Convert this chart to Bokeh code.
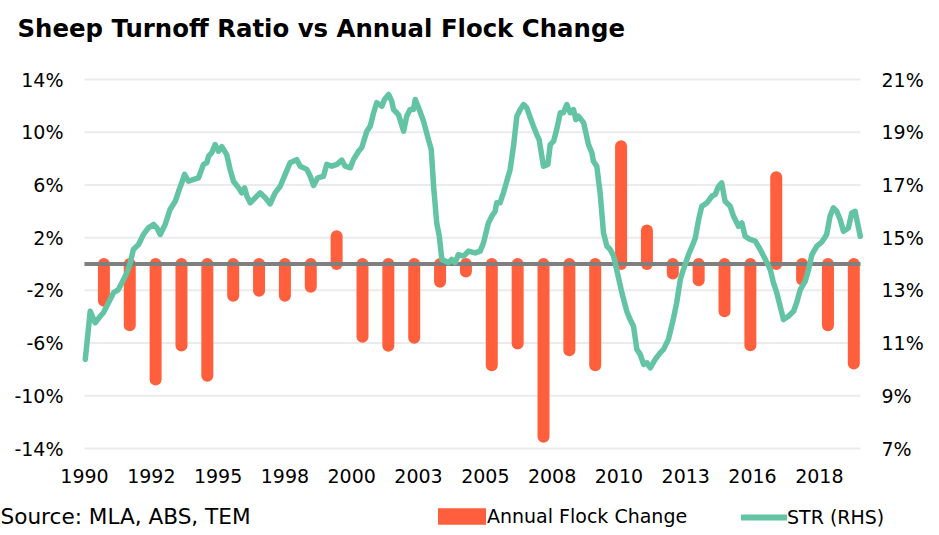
import numpy as np
from bokeh.plotting import figure
from bokeh.models import (Range1d, LinearAxis, FixedTicker, CustomJSTickFormatter,
                          Label, Legend, LegendItem, ColumnDataSource)
from bokeh.embed import file_html
from bokeh.resources import INLINE

TITLE = "Sheep Turnoff Ratio vs Annual Flock Change"
SOURCE_NOTE = "Source: MLA, ABS, TEM"
BAR_LABEL = "Annual Flock Change"
LINE_LABEL = "STR (RHS)"

START_YEAR = 1990.25          # first monthly observation (Apr 1990)
X_END_MONTH = 360.1           # right edge of plot area, months after start
X_TICK_STEP_MONTHS = 31
X_TICK_LABELS = ["1990", "1992", "1995", "1998", "2000", "2003",
                 "2005", "2008", "2010", "2013", "2016", "2018"]
LEFT_TICKS = [-14, -10, -6, -2, 2, 6, 10, 14]
RIGHT_TICKS = [7, 9, 11, 13, 15, 17, 19, 21]

BAR_YEARS = list(range(1991, 2021))
FLOCK_CHANGE = [-2.79, -4.64, -8.76, -6.18, -8.48, -2.41, -2.03, -2.41, -1.72, 2.11,
                -5.52, -6.20, -5.60, -1.35, -0.57, -7.68, -6.03, -13.11, -6.54, -7.68,
                8.94, 2.54, -0.72, -1.23, -3.58, -6.16, 6.59, -1.17, -4.64, -7.55]

STR_DATES = [
    1990.28, 1990.47, 1990.66, 1990.86, 1990.98, 1991.18, 1991.37, 1991.56, 1991.76, 1991.89,
    1992.02, 1992.14, 1992.34, 1992.53, 1992.72, 1992.92, 1993.05, 1993.18, 1993.37, 1993.56,
    1993.76, 1993.89, 1994.01, 1994.12, 1994.27, 1994.47, 1994.66, 1994.85, 1994.98, 1995.05,
    1995.17, 1995.30, 1995.43, 1995.56, 1995.75, 1995.88, 1996.01, 1996.21, 1996.33, 1996.44,
    1996.53, 1996.66, 1996.85, 1997.04, 1997.24, 1997.43, 1997.62, 1997.82, 1998.01, 1998.20,
    1998.46, 1998.59, 1998.85, 1998.98, 1999.11, 1999.27, 1999.49, 1999.62, 1999.81, 2000.01,
    2000.20, 2000.33, 2000.53, 2000.65, 2000.85, 2000.97, 2001.17, 2001.30, 2001.43, 2001.55,
    2001.75, 2001.85, 2002.01, 2002.13, 2002.20, 2002.39, 2002.59, 2002.71, 2002.84, 2002.97,
    2003.04, 2003.17, 2003.36, 2003.55, 2003.66, 2003.75, 2003.87, 2003.97, 2004.07, 2004.20,
    2004.33, 2004.45, 2004.58, 2004.71, 2004.91, 2005.10, 2005.36, 2005.55, 2005.68, 2005.87,
    2006.00, 2006.13, 2006.19, 2006.32, 2006.45, 2006.58, 2006.71, 2006.84, 2006.97, 2007.10,
    2007.23, 2007.35, 2007.49, 2007.61, 2007.74, 2007.83, 2008.00, 2008.17, 2008.26, 2008.39,
    2008.51, 2008.65, 2008.77, 2008.90, 2009.03, 2009.16, 2009.25, 2009.35, 2009.55, 2009.74,
    2009.87, 2009.93, 2010.06, 2010.19, 2010.32, 2010.45, 2010.58, 2010.71, 2010.83, 2011.03,
    2011.22, 2011.35, 2011.48, 2011.61, 2011.74, 2011.87, 2012.00, 2012.13, 2012.32, 2012.51,
    2012.64, 2012.83, 2013.03, 2013.15, 2013.29, 2013.41, 2013.61, 2013.80, 2013.87, 2014.00,
    2014.12, 2014.32, 2014.51, 2014.64, 2014.77, 2014.89, 2015.02, 2015.22, 2015.35, 2015.54,
    2015.67, 2015.80, 2015.99, 2016.19, 2016.38, 2016.58, 2016.77, 2016.89, 2017.02, 2017.15,
    2017.28, 2017.47, 2017.67, 2017.79, 2017.93, 2018.12, 2018.25, 2018.38, 2018.57, 2018.76,
    2018.95, 2019.08, 2019.21, 2019.34, 2019.47, 2019.60, 2019.79, 2019.92, 2020.05, 2020.25,
]
STR_VALUES = [
    10.38, 12.21, 11.77, 12.02, 12.15, 12.53, 12.91, 13.03, 13.41, 13.67,
    14.05, 14.55, 14.74, 15.12, 15.37, 15.50, 15.37, 15.12, 15.50, 16.07,
    16.38, 16.76, 17.08, 17.40, 17.14, 17.21, 17.27, 17.78, 17.84, 18.09,
    18.22, 18.53, 18.28, 18.45, 18.15, 17.59, 17.14, 16.89, 16.70, 16.89,
    16.57, 16.32, 16.51, 16.70, 16.51, 16.28, 16.70, 16.95, 17.40, 17.84,
    17.96, 17.71, 17.59, 17.33, 16.98, 17.27, 17.33, 17.78, 17.71, 17.78,
    17.94, 17.71, 17.65, 17.96, 18.28, 18.41, 19.04, 19.23, 19.74, 20.12,
    19.99, 20.24, 20.43, 20.18, 19.86, 19.67, 19.04, 19.61, 19.86, 19.86,
    20.24, 19.93, 19.42, 18.72, 18.34, 16.95, 15.56, 15.05, 14.17, 14.11,
    14.05, 14.17, 14.05, 14.36, 14.30, 14.49, 14.42, 14.49, 14.80, 15.56,
    15.81, 16.00, 16.32, 16.32, 16.70, 17.14, 17.59, 18.47, 19.61, 19.86,
    20.05, 19.93, 19.55, 19.23, 18.91, 18.72, 17.71, 17.78, 18.53, 18.66,
    19.10, 19.74, 19.74, 20.05, 19.74, 19.86, 19.48, 19.61, 19.36, 18.53,
    18.22, 17.90, 17.71, 16.70, 15.18, 14.68, 14.55, 14.30, 13.79, 12.91,
    12.21, 11.89, 11.64, 10.76, 10.57, 10.19, 10.25, 10.06, 10.38, 10.63,
    10.76, 11.14, 11.96, 12.53, 13.41, 13.79, 14.36, 14.80, 14.99, 15.69,
    16.19, 16.32, 16.57, 16.64, 16.95, 17.08, 16.38, 16.19, 15.81, 15.43,
    15.56, 15.05, 14.93, 14.87, 14.55, 14.17, 13.79, 13.29, 12.91, 12.40,
    11.89, 12.02, 12.21, 12.53, 13.03, 13.35, 13.79, 14.36, 14.68, 14.83,
    15.12, 15.81, 16.13, 16.00, 15.69, 15.24, 15.37, 15.94, 16.00, 15.05,
]

ORANGE = "#FF5F3D"
GREEN = "#63C4A3"
ZERO_GREY = "#7F7F7F"
GRID_GREY = "#EBEBEB"
FONT = "DejaVu Sans"

# ---- layout (pixels inside the canvas) ----
W, H = 928, 528
PLOT_LEFT, PLOT_RIGHT = 84, 860
PLOT_TOP, PLOT_BOTTOM = 79, 448


def to_months(year):
    return (year - START_YEAR) * 12.0


mpp = X_END_MONTH / (PLOT_RIGHT - PLOT_LEFT)
ypp = (LEFT_TICKS[-1] - LEFT_TICKS[0]) / (PLOT_BOTTOM - PLOT_TOP)
x0r = -PLOT_LEFT * mpp
x1r = X_END_MONTH + (W - PLOT_RIGHT) * mpp
y0r = LEFT_TICKS[0] - (H - PLOT_BOTTOM) * ypp
y1r = LEFT_TICKS[-1] + PLOT_TOP * ypp
ratio = (RIGHT_TICKS[-1] - RIGHT_TICKS[0]) / (LEFT_TICKS[-1] - LEFT_TICKS[0])
r0r = RIGHT_TICKS[0] + (y0r - LEFT_TICKS[0]) * ratio
r1r = RIGHT_TICKS[0] + (y1r - LEFT_TICKS[0]) * ratio

bar_src = ColumnDataSource(dict(
    x=[to_months(y) for y in BAR_YEARS],
    y0=[0.0] * len(FLOCK_CHANGE),
    y1=FLOCK_CHANGE,
))
line_src = ColumnDataSource(dict(
    x=[to_months(d) for d in STR_DATES],
    y=STR_VALUES,
))

p = figure(width=W, height=H, output_backend="svg", toolbar_location=None,
           x_range=Range1d(x0r, x1r), y_range=Range1d(y0r, y1r),
           min_border=0, x_axis_location=None, y_axis_location=None)
p.title.visible = False
p.outline_line_color = None
p.background_fill_color = "white"
p.border_fill_color = "white"
p.xgrid.visible = False
p.ygrid.visible = False
p.extra_y_ranges = {"rhs": Range1d(r0r, r1r)}

pct = CustomJSTickFormatter(code="return tick.toFixed(0) + '%';")


def style_axis(ax, standoff):
    ax.axis_line_color = None
    ax.major_tick_line_color = None
    ax.minor_tick_line_color = None
    ax.major_tick_out = 0
    ax.major_tick_in = 0
    ax.major_label_standoff = standoff
    ax.major_label_text_font = FONT
    ax.major_label_text_font_size = "19px"
    ax.major_label_text_color = "black"


left_ax = LinearAxis(ticker=FixedTicker(ticks=LEFT_TICKS), formatter=pct, fixed_location=0)
style_axis(left_ax, 21)
p.add_layout(left_ax, "left")

right_ax = LinearAxis(y_range_name="rhs", ticker=FixedTicker(ticks=RIGHT_TICKS),
                      formatter=pct, fixed_location=X_END_MONTH)
style_axis(right_ax, 21)
p.add_layout(right_ax, "right")

x_ticks = [k * X_TICK_STEP_MONTHS for k in range(len(X_TICK_LABELS))]
bottom_ax = LinearAxis(ticker=FixedTicker(ticks=x_ticks), fixed_location=LEFT_TICKS[0],
                       major_label_overrides={t: lab for t, lab in zip(x_ticks, X_TICK_LABELS)})
style_axis(bottom_ax, 20)
p.add_layout(bottom_ax, "below")

# horizontal gridlines across the plot area
p.segment(x0=[0.0] * len(LEFT_TICKS), x1=[X_END_MONTH] * len(LEFT_TICKS),
          y0=LEFT_TICKS, y1=LEFT_TICKS, line_color=GRID_GREY, line_width=2)
# bars as thick round-capped strokes
p.segment(x0="x", y0="y0", x1="x", y1="y1", source=bar_src,
          line_width=12, line_color=ORANGE, line_cap="round")
# zero line
p.segment(x0=[0.0], x1=[X_END_MONTH], y0=[0.0], y1=[0.0], line_width=4, line_color=ZERO_GREY)
# turnoff ratio line
p.line(x="x", y="y", source=line_src, y_range_name="rhs",
       line_width=5.5, line_color=GREEN, line_join="round", line_cap="round")

# legend proxies (no visible data)
nan1 = np.array([np.nan])
leg_bar = p.segment(x0=nan1, y0=nan1, x1=nan1, y1=nan1, line_width=16.5,
                    line_color=ORANGE, line_cap="round")
leg_line = p.line(x=np.array([np.nan, np.nan]), y=np.array([np.nan, np.nan]), line_width=6,
                  line_color=GREEN, line_cap="round")


def make_legend(item_label, renderer, loc, gw, standoff):
    return Legend(items=[LegendItem(label=item_label, renderers=[renderer])],
                  location=loc, orientation="horizontal", glyph_width=gw, glyph_height=22,
                  label_height=22, label_standoff=standoff, padding=0, margin=0, spacing=0,
                  border_line_color=None, background_fill_alpha=0,
                  label_text_font=FONT, label_text_font_size="19px", label_text_color="black")


p.add_layout(make_legend(BAR_LABEL, leg_bar, (438, 1), 48, 1))
p.add_layout(make_legend(LINE_LABEL, leg_line, (741, 0), 46, 0))

p.add_layout(Label(x=17, y=H - 28, x_units="screen", y_units="screen", text=TITLE,
                   text_font=FONT, text_font_style="bold", text_font_size="24.4px",
                   text_color="black", text_align="left", text_baseline="middle"))
p.add_layout(Label(x=0, y=H - 515.5, x_units="screen", y_units="screen", text=SOURCE_NOTE,
                   text_font=FONT, text_font_size="21.6px",
                   text_color="black", text_align="left", text_baseline="middle"))

open("out.html", "w").write(file_html(p, INLINE))
